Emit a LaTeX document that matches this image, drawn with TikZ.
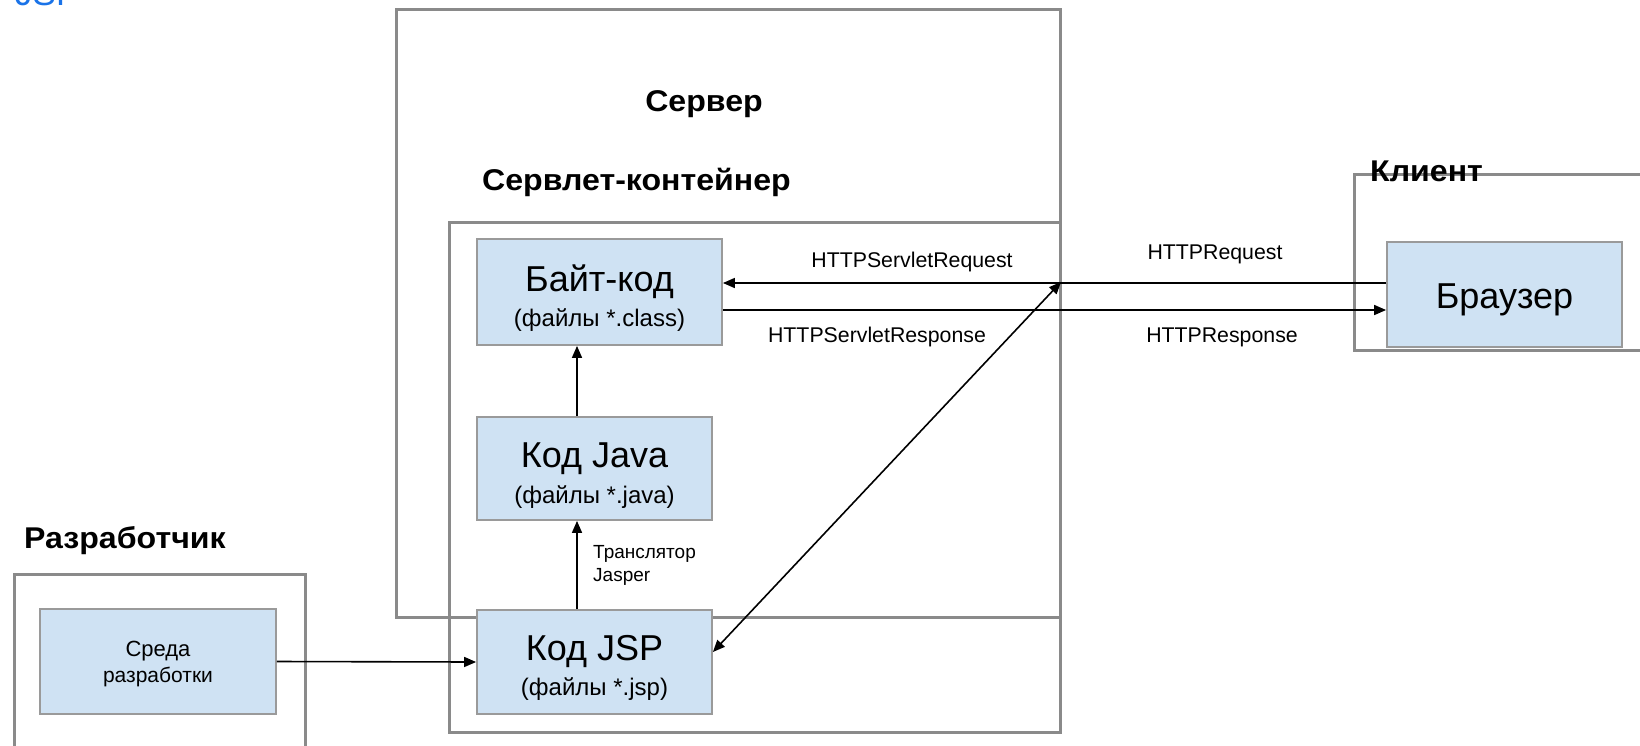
\documentclass[tikz,border=0pt]{standalone}
\usepackage{fontspec}
\setmainfont{Liberation Sans}
\newfontfamily\headfont[FakeStretch=1.07]{Liberation Sans}
\usetikzlibrary{arrows.meta}
\definecolor{framegray}{HTML}{8A8A8A}
\definecolor{boxfill}{HTML}{CFE2F3}
\definecolor{boxline}{HTML}{9A9A9A}
\definecolor{titleblue}{HTML}{1A73E8}

\begin{document}
\begin{tikzpicture}[x=1pt,y=-1pt,
  frame/.style={draw=framegray, line width=3pt, rectangle, inner sep=0pt, anchor=north west},
  codebox/.style={draw=boxline, line width=1.8pt, fill=boxfill, rectangle, inner sep=0pt},
  boxtext/.style={inner sep=0pt, align=center, font=\fontsize{24}{35.5}\selectfont},
  big/.style={font=\fontsize{36}{38}\selectfont},
  arr/.style={-{Triangle[length=12pt,width=10pt]}, line width=1.6pt, black},
  dblarr/.style={{Triangle[length=12pt,width=10pt]}-{Triangle[length=12pt,width=10pt]}, line width=1.6pt, black},
  heading/.style={font=\headfont\bfseries\fontsize{30}{32}\selectfont, inner sep=0pt},
  lbl/.style={font=\fontsize{21.3}{23}\selectfont, inner sep=0pt}
]
\useasboundingbox (0,0) rectangle (1640,745);
\clip (0,0) rectangle (1640,745);

% page title, partly above the top edge
\node[font=\fontsize{35}{36}\selectfont, text=titleblue, anchor=base west, inner sep=0pt] (title) at (15,5) {JSP};

% enclosing frames
\node[frame, minimum width=664pt, minimum height=608pt] (server) at (395,8) {};
\node[frame, minimum width=611pt, minimum height=510pt] (container) at (448,221) {};
\node[frame, minimum width=347pt, minimum height=176pt] (client) at (1353,173) {};
\node[frame, minimum width=291pt, minimum height=225pt] (dev) at (13,573) {};

% frame headings
\node[heading] (serverlbl) at (704,104) {Сервер};
\node[heading, anchor=west] (containerlbl) at (482,182) {Сервлет-контейнер};
\node[heading, anchor=west] (devlbl) at (24,541) {Разработчик};
\node[heading, anchor=west] (clientlbl) at (1370,171) {Клиент};

% code boxes
\node[codebox, minimum width=245pt, minimum height=106pt] (bytecode) at (599.5,292) {};
\node[codebox, minimum width=235pt, minimum height=103pt] (java) at (594.5,468.5) {};
\node[codebox, minimum width=235pt, minimum height=104pt] (jsp) at (594.5,662) {};
\node[codebox, minimum width=236pt, minimum height=105pt] (ide) at (158,661.5) {};
\node[codebox, minimum width=235pt, minimum height=105pt] (browser) at (1504.5,294.5) {};

% box captions
\node[boxtext] (bytecodetxt) at ([yshift=-6pt]bytecode.center)
  {{\fontsize{36}{38}\selectfont Байт-код}\\(файлы *.class)};
\node[boxtext] (javatxt) at ([yshift=-7pt]java.center)
  {{\fontsize{36}{38}\selectfont Код Java}\\(файлы *.java)};
\node[boxtext] (jsptxt) at ([yshift=-6pt]jsp.center)
  {{\fontsize{36}{38}\selectfont Код JSP}\\(файлы *.jsp)};
\node[boxtext, font=\fontsize{21}{26}\selectfont] (idetxt) at ([yshift=-2.5pt]ide.center)
  {{\fontsize{22}{26}\selectfont Среда}\\разработки};
\node[boxtext, big] (browsertxt) at ([yshift=-5pt]browser.center) {Браузер};

% connectors
\coordinate (reqy) at (0,283);
\coordinate (resy) at (0,310);
\coordinate (chainx) at (577,0);
\coordinate (split) at (1061,282);
\draw[arr] (browser.west |- reqy) -- (bytecode.east |- reqy);
\draw[arr] (bytecode.east |- resy) -- (browser.west |- resy);
\draw[dblarr] (split) -- ([yshift=10pt]jsp.east);
\draw[arr] (jsp.north -| chainx) -- (java.south -| chainx);
\draw[arr] (java.north -| chainx) -- (bytecode.south -| chainx);
\draw[arr] (ide.east) -- (jsp.west);

% connector labels
\node[lbl] (l1) at (912,262) {HTTPServletRequest};
\node[lbl] (l2) at (1215,254) {HTTPRequest};
\node[lbl] (l3) at (877,337) {HTTPServletResponse};
\node[lbl] (l4) at (1222,337) {HTTPResponse};
\node[lbl, anchor=west, align=left, font=\fontsize{19}{23}\selectfont] (l5) at (593,565) {Транслятор\\Jasper};
\end{tikzpicture}
\end{document}
